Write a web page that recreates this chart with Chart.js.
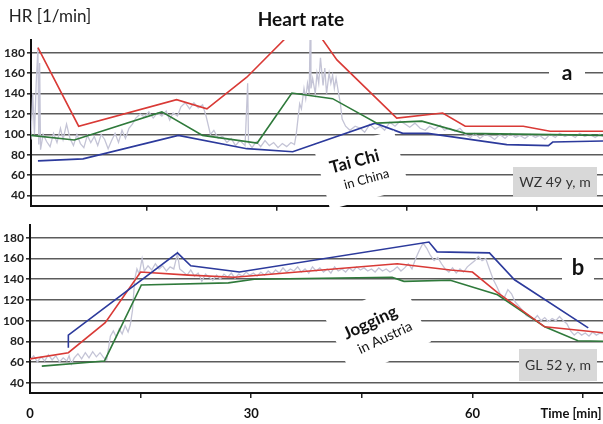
<!DOCTYPE html>
<html>
<head>
<meta charset="utf-8">
<script src="https://cdn.jsdelivr.net/npm/chart.js@4/dist/chart.umd.min.js"></script>
<style>
  html, body { margin: 0; padding: 0; background: #fff; }
  #wrap { position: relative; width: 603px; height: 424px; overflow: hidden; }
  canvas { position: absolute; left: 0; }
  #cA { top: 0; }
  #cB { top: 215px; }
</style>
</head>
<body>
<div id="wrap">
  <canvas id="cA" width="603" height="215"></canvas>
  <canvas id="cB" width="603" height="209"></canvas>
</div>
<script>
// ---- data (time in min, HR in 1/min) ----
// a: Tai Chi in China
const taiRed   = [[2.4,185],[7.1,108],[18.4,134],[21.9,125],[26.5,156],[33.4,215],[36.9,173],[43.8,116],[49.1,121],[51.7,108],[58.4,108],[61.5,103],[67.6,103]];
const taiGreen = [[1.6,99],[6.6,94.5],[16.7,122],[21.4,99],[27.7,91.5],[31.7,140.5],[36.4,135],[41.5,111],[46.7,113],[51.7,101],[67.6,99]];
const taiBlue  = [[2.4,74],[7.6,76],[18.6,99],[26.5,86],[31.8,83],[41.3,111],[44.5,101],[47.4,101],[56.5,90],[61.3,89],[61.8,92.5],[67.6,93.5]];
const taiRaw = [[1.6,95],[1.8,140],[2.0,100],[2.2,150],[2.4,185],[2.5,90],[2.6,170],[2.7,85],[3.0,100],[3.4,93],[3.8,88],[4.2,101],[4.6,92],[5.0,106],[5.3,95],[5.7,110],[6.1,96],[6.5,89],[6.9,100],[7.3,91],[7.7,87],[8.1,99],[8.5,92],[8.9,98],[9.3,89],[9.7,100],[10.1,95],[10.5,86],[10.9,94],[11.3,101],[11.7,92],[12.1,104],[12.5,96],[12.9,106],[13.3,110],[13.7,116],[14.2,120],[14.7,117],[15.2,122],[15.7,116],[16.2,121],[16.7,118],[17.2,123],[17.6,114],[18.0,121],[18.5,118],[18.9,127],[19.4,131],[19.9,125],[20.4,131],[20.9,126],[21.4,129],[21.8,118],[22.3,100],[22.7,104],[23.2,96],[23.7,98],[24.2,92],[24.7,96],[25.2,89],[25.7,94],[26.3,89],[26.6,150],[26.7,92],[27.1,87],[27.6,93],[28.1,88],[28.6,94],[29.1,89],[29.6,92],[30.1,87],[30.6,91],[31.1,88],[31.6,92],[32.0,90],[32.2,100],[32.4,115],[32.6,130],[32.8,125],[33.1,145],[33.3,135],[33.5,150],[33.7,140],[33.8,195],[33.9,145],[34.1,155],[34.4,140],[34.6,160],[34.8,150],[35.0,175],[35.3,148],[35.5,165],[35.7,140],[36.0,160],[36.2,150],[36.4,158],[36.6,145],[36.8,155],[37.1,140],[37.3,130],[37.5,115],[37.9,108],[38.4,104],[39.0,108],[39.6,106],[40.1,102],[40.7,110],[41.3,105],[41.9,108],[42.4,104],[43.0,112],[43.6,108],[44.2,113],[44.8,110],[45.3,107],[45.9,111],[46.5,106],[47.1,104],[47.6,108],[48.2,105],[48.8,109],[49.3,104],[49.9,106],[50.5,103],[51.1,106],[51.7,100],[52.3,97],[52.8,101],[53.4,96],[54.0,100],[54.6,98],[55.1,95],[55.7,100],[56.3,96],[56.9,101],[57.5,97],[58.0,99],[58.6,96],[59.2,100],[59.8,97],[60.3,99],[60.9,95],[61.5,100],[62.1,97],[62.6,101],[63.2,98],[63.8,100],[64.4,97],[64.9,101],[65.5,98],[66.1,100],[66.7,97],[67.2,100],[67.6,98]];

// b: Jogging in Austria
const jogRed   = [[0,63],[5.2,69],[10.2,98],[15.0,147],[21.5,144],[27.7,142],[49.8,155],[57.0,149],[60.0,147],[63.4,127],[69.8,94],[78.1,88]];
const jogGreen = [[1.6,56],[10.1,61],[15.1,134.5],[26.9,136.5],[30.4,140],[49.1,142],[50.7,138],[57.0,139],[63.4,125],[69.8,94],[74.3,80.5],[78.1,80]];
const jogBlue  = [[5.2,73.7],[5.2,86],[20.0,165.5],[21.8,153],[28.4,147],[54.1,176],[55.2,166.5],[62.3,165.5],[65.7,139.5],[75.7,93]];
const jogRaw = [[0,62],[0.5,66],[1.0,60],[1.5,65],[2.0,61],[2.5,67],[3.0,62],[3.5,66],[4.0,60],[4.5,64],[5.0,61],[5.3,66],[5.6,58],[6.0,64],[6.5,68],[7.0,63],[7.5,69],[8.0,64],[8.5,70],[9.0,65],[9.5,69],[10.0,64],[10.4,62],[10.9,85],[11.3,90],[11.7,84],[12.1,92],[12.5,87],[12.9,95],[13.3,89],[13.6,96],[13.9,110],[14.2,140],[14.5,150],[14.8,145],[15.2,160],[15.5,148],[16.0,153],[16.5,149],[17.0,155],[17.5,150],[18.0,153],[18.5,148],[19.0,152],[19.5,150],[20.0,165],[20.3,150],[20.8,147],[21.3,144],[21.8,149],[22.3,143],[22.8,146],[23.3,138],[23.8,145],[24.3,142],[24.8,139],[25.3,144],[25.8,140],[26.3,145],[26.8,142],[27.3,146],[27.8,141],[28.3,145],[28.8,143],[29.3,147],[29.8,144],[30.3,146],[30.8,143],[31.3,147],[31.8,144],[32.3,148],[32.8,145],[33.3,149],[33.8,146],[34.3,151],[34.8,147],[35.3,150],[35.8,148],[36.3,152],[36.8,147],[37.3,150],[37.8,146],[38.3,152],[38.8,148],[39.3,151],[39.8,147],[40.3,150],[40.8,146],[41.3,152],[41.8,148],[42.3,150],[42.8,147],[43.3,151],[43.8,148],[44.3,152],[44.8,149],[45.3,151],[45.8,148],[46.3,150],[46.8,147],[47.3,151],[47.8,148],[48.3,150],[48.8,147],[49.3,149],[49.8,152],[50.3,148],[50.8,151],[51.3,155],[51.8,150],[52.3,160],[52.8,168],[53.3,175],[53.8,170],[54.3,163],[54.8,158],[55.3,161],[55.8,155],[56.3,150],[56.8,147],[57.3,151],[57.8,146],[58.3,150],[58.8,147],[59.3,152],[59.8,155],[60.3,158],[60.8,162],[61.3,158],[61.8,160],[62.3,150],[62.8,140],[63.3,133],[63.8,125],[64.3,122],[64.8,130],[65.3,126],[65.8,118],[66.3,114],[66.8,110],[67.3,105],[67.8,103],[68.3,101],[68.8,105],[69.3,100],[69.8,103],[70.3,99],[70.8,102],[71.3,100],[71.8,104],[72.3,100],[72.8,97],[73.3,90],[73.8,86],[74.3,89],[74.8,86],[75.3,88],[75.8,85],[76.3,89],[76.8,86],[77.3,88],[77.7,87]];

const hrTicks = [40, 50, 60, 70, 80, 90, 100, 110, 120, 130, 140, 150, 160, 170, 180, 190];
const timeTicksA = [15, 30, 45, 60];
const timeTicksB = [0, 15, 30, 45, 60, 75];
const timeLabels = [0, 30, 60];

const RED = "#d93a36", GREEN = "#2f7a3b", BLUE = "#2c3a9c", RAW = "#c4c4d6";
const FONT = "Lato, 'DejaVu Sans', sans-serif";

function pts(arr) { return arr.map(p => ({ x: p[0], y: p[1] })); }

function lineSet(arr, color, width, order) {
  return { data: pts(arr), borderColor: color, borderWidth: width, pointRadius: 0, tension: 0, fill: false, order: order };
}

// stickers, boxes and text drawn on top of the grid
function overlay(items) {
  return {
    id: "overlay",
    afterDatasetsDraw(chart) {
      const ctx = chart.ctx;
      items.forEach(it => {
        ctx.save();
        ctx.translate(it.x, it.y);
        if (it.rot) ctx.rotate(it.rot * Math.PI / 180);
        if (it.box) {
          ctx.fillStyle = it.box;
          ctx.fillRect(-it.w / 2, -it.h / 2, it.w, it.h);
        }
        (it.lines || []).forEach(l => {
          ctx.font = l.font;
          ctx.fillStyle = l.color || "#222";
          ctx.textAlign = "center";
          ctx.textBaseline = "middle";
          ctx.fillText(l.text, l.dx || 0, l.dy || 0);
        });
        ctx.restore();
      });
    }
  };
}

function yScale(width) {
  return {
    type: "linear", min: 30, max: 192.5,
    afterBuildTicks: s => { s.ticks = hrTicks.map(v => ({ value: v })); },
    afterFit: s => { s.width = width; },
    border: { color: "#111", width: 2 },
    grid: {
      color: "#5c5c5c", lineWidth: 1.6, tickLength: 4,
      tickColor: c => (c.tick && c.tick.value % 20 === 0 && c.tick.value <= 180) ? "#333" : "rgba(0,0,0,0)"
    },
    ticks: {
      padding: 2, color: "#222",
      font: { family: FONT, size: 12, weight: "bold" },
      callback: v => (v % 20 === 0 && v <= 180) ? String(v) : ""
    }
  };
}

// ---- panel a ----
new Chart(document.getElementById("cA"), {
  type: "line",
  data: {
    datasets: [
      lineSet(taiRed, RED, 1.6, 1),
      lineSet(taiGreen, GREEN, 1.6, 2),
      lineSet(taiBlue, BLUE, 1.6, 3),
      lineSet(taiRaw, RAW, 1.3, 9)
    ]
  },
  options: {
    responsive: false, animation: false, devicePixelRatio: 1,
    layout: { padding: { top: 40, left: 0, right: 0, bottom: 0 } },
    plugins: { legend: { display: false }, tooltip: { enabled: false } },
    scales: {
      x: {
        type: "linear", min: 1.6, max: 67.6,
        afterBuildTicks: s => { s.ticks = timeTicksA.map(v => ({ value: v })); },
        afterFit: s => { s.height = 5; },
        border: { color: "#111", width: 2 },
        grid: { drawOnChartArea: false, tickLength: 5, tickColor: "#222", lineWidth: 1.5 },
        ticks: { callback: () => "" }
      },
      y: yScale(31)
    }
  },
  plugins: [overlay([
    { x: 50, y: 17, lines: [{ text: "HR [1/min]", font: "17px " + FONT, color: "#222" }] },
    { x: 301, y: 20, lines: [{ text: "Heart rate", font: "bold 19px " + FONT, color: "#111" }] },
    { x: 567, y: 73, w: 36, h: 34, box: "#fff", lines: [{ text: "a", font: "bold 21px " + FONT, color: "#111" }] },
    { x: 362, y: 170, w: 82, h: 60, rot: -15, box: "#fff", lines: [
      { text: "Tai Chi", font: "bold 17px " + FONT, color: "#111", dx: -5, dy: -10 },
      { text: "in China", font: "13px " + FONT, color: "#111", dx: 2, dy: 10 }
    ] },
    { x: 555, y: 182, w: 84, h: 30, box: "#d8d8d8", lines: [{ text: "WZ 49 y, m", font: "14px " + FONT, color: "#333" }] }
  ])]
});

// ---- panel b ----
new Chart(document.getElementById("cB"), {
  type: "line",
  data: {
    datasets: [
      lineSet(jogBlue, BLUE, 1.6, 1),
      lineSet(jogRed, RED, 1.6, 2),
      lineSet(jogGreen, GREEN, 1.6, 3),
      lineSet(jogRaw, RAW, 1.3, 9)
    ]
  },
  options: {
    responsive: false, animation: false, devicePixelRatio: 1,
    layout: { padding: { top: 10, left: 0, right: 0, bottom: 0 } },
    plugins: { legend: { display: false }, tooltip: { enabled: false } },
    scales: {
      x: {
        type: "linear", min: 0, max: 77.7,
        afterBuildTicks: s => { s.ticks = timeTicksB.map(v => ({ value: v })); },
        afterFit: s => { s.height = 31; },
        border: { color: "#111", width: 2 },
        grid: {
          drawOnChartArea: false, tickLength: 5, lineWidth: 1.5,
          tickColor: c => (c.tick && c.tick.value === 0) ? "rgba(0,0,0,0)" : "#222"
        },
        ticks: {
          padding: 8, color: "#111", maxRotation: 0,
          font: { family: FONT, size: 13, weight: "bold" },
          callback: v => timeLabels.includes(v) ? String(v) : ""
        }
      },
      y: yScale(30)
    }
  },
  plugins: [overlay([
    { x: 578, y: 53, w: 32, h: 36, box: "#fff", lines: [{ text: "b", font: "bold 22px " + FONT, color: "#111" }] },
    { x: 378, y: 115, w: 86, h: 66, rot: -25, box: "#fff", lines: [
      { text: "Jogging", font: "bold 17px " + FONT, color: "#111", dx: -4, dy: -10 },
      { text: "in Austria", font: "14px " + FONT, color: "#111", dx: 3, dy: 10 }
    ] },
    { x: 558, y: 150, w: 78, h: 32, box: "#d8d8d8", lines: [{ text: "GL 52 y, m", font: "14px " + FONT, color: "#333" }] },
    { x: 571, y: 199, lines: [{ text: "Time [min]", font: "bold 13px " + FONT, color: "#111" }] }
  ])]
});
</script>
</body>
</html>
